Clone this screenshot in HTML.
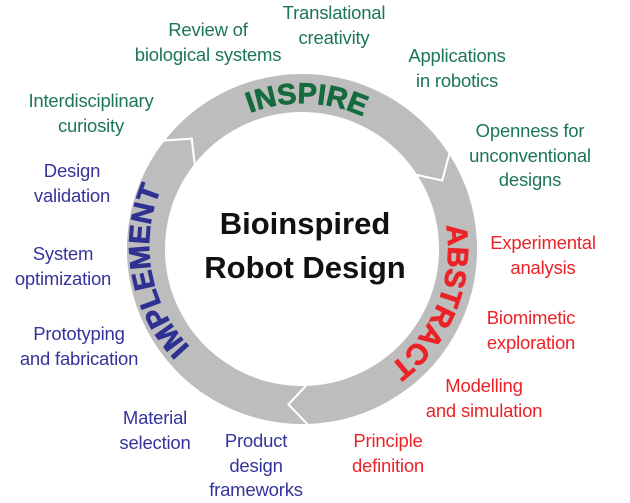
<!DOCTYPE html>
<html><head><meta charset="utf-8"><style>
body{margin:0;width:630px;height:502px;background:#fff;position:relative;overflow:hidden;font-family:"Liberation Sans",sans-serif}
.l{position:absolute;transform:translateX(-50%);text-align:center;font-size:18.5px;line-height:24.5px;white-space:nowrap;letter-spacing:-0.2px}
.g{color:#1d7656}.r{color:#ec2227}.b{color:#34349a}
svg{position:absolute;left:0;top:0}
</style></head><body>
<svg width="630" height="502" viewBox="0 0 630 502">
<defs>
<path id="pI" d="M178.2,172.0 A146,146 0 0 1 430.8,180.4"/>
<path id="pA" d="M417.1,159.1 A146,146 0 0 1 322.3,393.6"/>
<path id="pM" d="M232.7,377.7 A146,146 0 0 1 190.1,144.5"/>
</defs>
<g fill="#bdbdbd" stroke="#fff" stroke-width="2" id="ring"></g>
<g font-family="Liberation Sans,sans-serif" font-weight="bold" font-size="29" text-anchor="middle" stroke-width="0.8">
<text fill="#156b3e" stroke="#156b3e"><textPath href="#pI" startOffset="50%">INSPIRE</textPath></text>
<text fill="#ec2227" stroke="#ec2227"><textPath href="#pA" startOffset="50%">ABSTRACT</textPath></text>
<text fill="#2e3192" stroke="#2e3192"><textPath href="#pM" startOffset="50%">IMPLEMENT</textPath></text>
</g>
<g font-family="Liberation Sans,sans-serif" font-weight="bold" font-size="31" text-anchor="middle" fill="#111">
<text x="305" y="234">Bioinspired</text>
<text x="305" y="278">Robot Design</text>
</g>
<script>
(function(){
var cx=302,cy=249,R=176,r=136,m=156,d=7,g=document.getElementById('ring');
function p(a,rad){a=a*Math.PI/180;return (cx+rad*Math.cos(a)).toFixed(1)+','+(cy+rad*Math.sin(a)).toFixed(1);}
function seg(a1,a2){
 var s='M'+p(a1,R)+' A'+R+','+R+' 0 0 1 '+p(a2,R)+' L'+p(a2+d,m)+' L'+p(a2,r)+' A'+r+','+r+' 0 0 0 '+p(a1,r)+' L'+p(a1+d,m)+' Z';
 var e=document.createElementNS('http://www.w3.org/2000/svg','path');e.setAttribute('d',s);g.appendChild(e);}
seg(-142,-33);seg(-33,88);seg(88,218);
})();
</script>
</svg>
<div class="l g" style="left:208px;top:18px">Review of<br>biological systems</div>
<div class="l g" style="left:334px;top:1px">Translational<br>creativity</div>
<div class="l g" style="left:457px;top:44px">Applications<br>in robotics</div>
<div class="l g" style="left:91px;top:89px">Interdisciplinary<br>curiosity</div>
<div class="l g" style="left:530px;top:119px">Openness for<br>unconventional<br>designs</div>
<div class="l r" style="left:543px;top:231px">Experimental<br>analysis</div>
<div class="l r" style="left:531px;top:306px">Biomimetic<br>exploration</div>
<div class="l r" style="left:484px;top:374px">Modelling<br>and simulation</div>
<div class="l r" style="left:388px;top:429px">Principle<br>definition</div>
<div class="l b" style="left:72px;top:159px">Design<br>validation</div>
<div class="l b" style="left:63px;top:242px">System<br>optimization</div>
<div class="l b" style="left:79px;top:322px">Prototyping<br>and fabrication</div>
<div class="l b" style="left:155px;top:406px">Material<br>selection</div>
<div class="l b" style="left:256px;top:429px">Product<br>design<br>frameworks</div>
</body></html>
